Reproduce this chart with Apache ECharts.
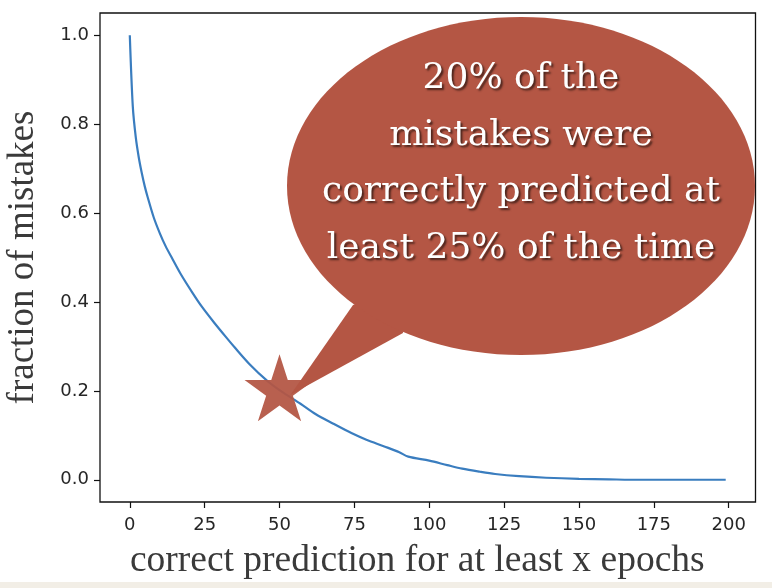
<!DOCTYPE html>
<html>
<head>
<meta charset="utf-8">
<script src="https://cdn.jsdelivr.net/npm/echarts@6/dist/echarts.min.js"></script>
<style>
  html, body { margin: 0; padding: 0; background: #fff; }
  #chart { width: 772px; height: 588px; }
</style>
</head>
<body>
<div id="chart"></div>
<script>
// curve
const epochs = [0, 1, 2, 3, 4, 5, 6, 8, 10, 12, 14, 17, 21, 24, 28, 32, 35, 40, 46, 51,
  57, 62, 68, 74, 79, 85, 90, 93, 100, 106, 111, 117, 122, 130, 139, 150, 160, 167, 180, 199];
const mistakes = [1.0, 0.84, 0.77, 0.725, 0.69, 0.66, 0.635, 0.59, 0.555, 0.525, 0.5, 0.463, 0.42, 0.39, 0.355, 0.322, 0.298, 0.26, 0.222, 0.197,
  0.171, 0.148, 0.126, 0.105, 0.09, 0.075, 0.062, 0.052, 0.043, 0.033, 0.025, 0.018, 0.013, 0.008, 0.0045, 0.002, 0.001, 0, 0, 0];

const xTicks = [0, 25, 50, 75, 100, 125, 150, 175, 200];
const yTicks = [0, 0.2, 0.4, 0.6, 0.8, 1.0];
const starPoint = [50, 0.2];
const bubbleLines = ['20% of the', 'mistakes were', 'correctly predicted at', 'least 25% of the time'];

const STAR = 'path://M50 0 L61.23 34.55 L97.55 34.55 L68.16 55.9 L79.39 90.45 L50 69.1 L20.61 90.45 L31.84 55.9 L2.45 34.55 L38.77 34.55 Z';
const BUBBLE = '#b45644';

const chart = echarts.init(document.getElementById('chart'));

chart.setOption({
  animation: false,
  backgroundColor: '#fff',
  grid: {
    left: 100, right: 16.5, top: 13, bottom: 86,
    outerBoundsMode: 'none', containLabel: false,
    show: true, borderColor: '#111', borderWidth: 1.3, backgroundColor: 'transparent'
  },
  xAxis: {
    type: 'value', min: -9.95, max: 208.95,
    axisLine: { show: false, onZero: false },
    splitLine: { show: false },
    axisTick: { show: true, length: 6, customValues: xTicks, lineStyle: { color: '#111', width: 1.2 } },
    axisLabel: { customValues: xTicks, margin: 14, fontFamily: 'DejaVu Sans', fontSize: 18, color: '#262626' },
    name: 'correct prediction for at least x epochs',
    nameLocation: 'middle', nameGap: 40,
    nameTextStyle: { fontFamily: 'Liberation Serif', fontSize: 37.5, color: '#3a3a3a', padding: [0, 21, 0, 0] }
  },
  yAxis: {
    type: 'value', min: -0.05, max: 1.05,
    axisLine: { show: false, onZero: false },
    splitLine: { show: false },
    axisTick: { show: true, length: 6, customValues: yTicks, lineStyle: { color: '#111', width: 1.2 } },
    axisLabel: { customValues: yTicks, margin: 11, fontFamily: 'DejaVu Sans', fontSize: 18, color: '#262626',
      formatter: v => v.toFixed(1) },
    name: 'fraction of mistakes',
    nameLocation: 'middle', nameGap: 58, nameRotate: 90,
    nameTextStyle: { fontFamily: 'Liberation Serif', fontSize: 37, color: '#3a3a3a' }
  },
  series: [
    {
      type: 'line',
      data: epochs.map((x, i) => [x, mistakes[i]]),
      showSymbol: false,
      smooth: 0.3,
      lineStyle: { color: '#3a7dbf', width: 2.2 },
      z: 2
    },
    {
      type: 'scatter',
      data: [starPoint],
      symbol: STAR,
      symbolSize: [70, 67],
      symbolKeepAspect: false,
      symbolOffset: [0, -3],
      itemStyle: { color: BUBBLE, opacity: 0.94 },
      emphasis: { disabled: true },
      z: 5
    }
  ]
});

// speech bubble pointing at the star
const tip = chart.convertToPixel({ gridIndex: 0 }, starPoint);
const cx = 521, cy = 186, rx = 234, ry = 169;
const lineBase = [92, 149, 205, 262];

chart.setOption({
  graphic: [
    { type: 'rect', shape: { x: 0, y: 582, width: 772, height: 6 }, style: { fill: '#f2eee6' }, z: 0 },
    {
      type: 'polygon', z: 10,
      shape: { points: [[353, 305], [tip[0] + 11, tip[1] + 4], [403, 333], [400, 290]] },
      style: { fill: BUBBLE }
    },
    { type: 'ellipse', z: 10, shape: { cx: cx, cy: cy, rx: rx, ry: ry }, style: { fill: BUBBLE } },
    ...bubbleLines.map((t, i) => ({
      type: 'text', z: 11,
      style: {
        text: t, x: cx, y: lineBase[i] - 13,
        fill: '#fff', font: '36px "DejaVu Serif"',
        textAlign: 'center', textVerticalAlign: 'middle',
        textShadowColor: 'rgba(40,20,15,0.75)', textShadowBlur: 2,
        textShadowOffsetX: 2, textShadowOffsetY: 2
      }
    }))
  ]
});
</script>
</body>
</html>
